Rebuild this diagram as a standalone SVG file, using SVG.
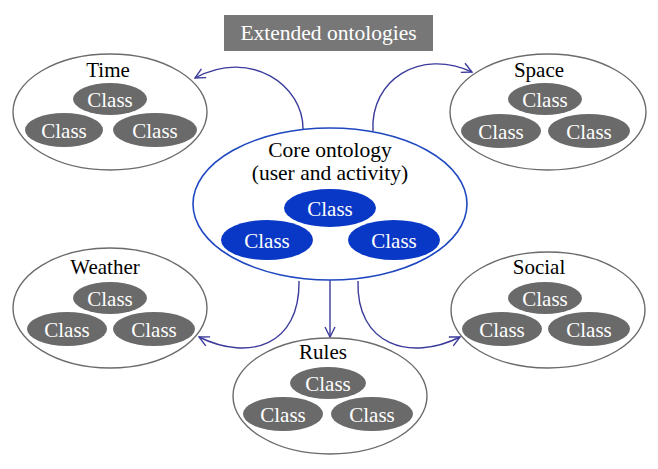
<svg xmlns="http://www.w3.org/2000/svg" width="658" height="469" viewBox="0 0 658 469" font-family="'Liberation Serif', 'DejaVu Serif', 'Times New Roman', serif">
<defs>
<style>
text{font-family:'Liberation Serif','DejaVu Serif','Times New Roman',serif;text-anchor:middle}
.outer{fill:#fff;stroke:#6b6b6b;stroke-width:1.4}
.cls{fill:#6a6a6a}
.bcls{fill:#0a38c6}
.ct{fill:#fff;font-size:21px}
.lbl{fill:#000;font-size:21px}
.core{fill:#000;font-size:21.5px}
.conn{fill:none;stroke:#3b3b9c;stroke-width:1.4}
</style>
<marker id="ah" viewBox="0 0 12 12" refX="11" refY="6" markerWidth="12" markerHeight="12" markerUnits="userSpaceOnUse" orient="auto">
<path d="M1,1 L11,6 L1,11" fill="none" stroke="#3b3b9c" stroke-width="1.4"/>
</marker>
</defs>
<rect width="658" height="469" fill="#fff"/>
<g id="title">
<rect x="224" y="15" width="209" height="36" fill="#777"/>
<text x="328.5" y="40" fill="#fff" font-size="21.5">Extended ontologies</text>
</g>
<g id="connectors">
<path class="conn" d="M303,130 C304,85 250,48 195,78" marker-end="url(#ah)"/>
<path class="conn" d="M373,131 C370,80 420,48 472,72" marker-end="url(#ah)"/>
<path class="conn" d="M299,281 C300,345 250,362 199,337" marker-end="url(#ah)"/>
<path class="conn" d="M358,281 C356,345 410,362 460,337" marker-end="url(#ah)"/>
<path class="conn" d="M330,280 L330,337" marker-end="url(#ah)"/>
</g>
<g id="time">
<ellipse class="outer" cx="110" cy="112" rx="97" ry="58"/>
<text class="lbl" x="108" y="77">Time</text>
<ellipse class="cls" cx="110" cy="99" rx="37" ry="16"/>
<ellipse class="cls" cx="64" cy="130" rx="39" ry="17"/>
<ellipse class="cls" cx="155" cy="130" rx="42" ry="17"/>
<text class="ct" x="110" y="106.5">Class</text>
<text class="ct" x="64" y="137.5">Class</text>
<text class="ct" x="155" y="137.5">Class</text>
</g>
<g id="space">
<ellipse class="outer" cx="548" cy="112" rx="98" ry="58"/>
<text class="lbl" x="539" y="77">Space</text>
<ellipse class="cls" cx="545" cy="99" rx="37" ry="16"/>
<ellipse class="cls" cx="501" cy="131" rx="40" ry="17"/>
<ellipse class="cls" cx="589" cy="131" rx="41" ry="17"/>
<text class="ct" x="545" y="106.5">Class</text>
<text class="ct" x="501" y="138.5">Class</text>
<text class="ct" x="589" y="138.5">Class</text>
</g>
<g id="core">
<ellipse cx="330" cy="204" rx="137" ry="76" fill="#fff" stroke="#1f48c0" stroke-width="1.6"/>
<text class="core" x="330" y="157">Core ontology</text>
<text class="core" x="330" y="180">(user and activity)</text>
<ellipse class="bcls" cx="330" cy="208" rx="46" ry="19"/>
<ellipse class="bcls" cx="267" cy="240" rx="46" ry="20"/>
<ellipse class="bcls" cx="394" cy="240" rx="46" ry="20"/>
<text class="ct" x="330" y="216">Class</text>
<text class="ct" x="267" y="248">Class</text>
<text class="ct" x="394" y="248">Class</text>
</g>
<g id="weather">
<ellipse class="outer" cx="110" cy="308" rx="97" ry="60"/>
<text class="lbl" x="105" y="274">Weather</text>
<ellipse class="cls" cx="110" cy="298" rx="37" ry="16"/>
<ellipse class="cls" cx="67" cy="329" rx="40" ry="17"/>
<ellipse class="cls" cx="154" cy="329" rx="41" ry="17"/>
<text class="ct" x="110" y="305.5">Class</text>
<text class="ct" x="67" y="336.5">Class</text>
<text class="ct" x="154" y="336.5">Class</text>
</g>
<g id="social">
<ellipse class="outer" cx="548" cy="310" rx="97" ry="58"/>
<text class="lbl" x="539" y="274">Social</text>
<ellipse class="cls" cx="545" cy="298" rx="37" ry="16"/>
<ellipse class="cls" cx="502" cy="329" rx="40" ry="17"/>
<ellipse class="cls" cx="589" cy="329" rx="41" ry="17"/>
<text class="ct" x="545" y="305.5">Class</text>
<text class="ct" x="502" y="336.5">Class</text>
<text class="ct" x="589" y="336.5">Class</text>
</g>
<g id="rules">
<ellipse class="outer" cx="330" cy="396" rx="97" ry="58"/>
<text class="lbl" x="323" y="359">Rules</text>
<ellipse class="cls" cx="328" cy="383" rx="38" ry="16"/>
<ellipse class="cls" cx="283" cy="414" rx="40" ry="17"/>
<ellipse class="cls" cx="372" cy="414" rx="41" ry="17"/>
<text class="ct" x="328" y="390.5">Class</text>
<text class="ct" x="283" y="421.5">Class</text>
<text class="ct" x="372" y="421.5">Class</text>
</g>
</svg>
